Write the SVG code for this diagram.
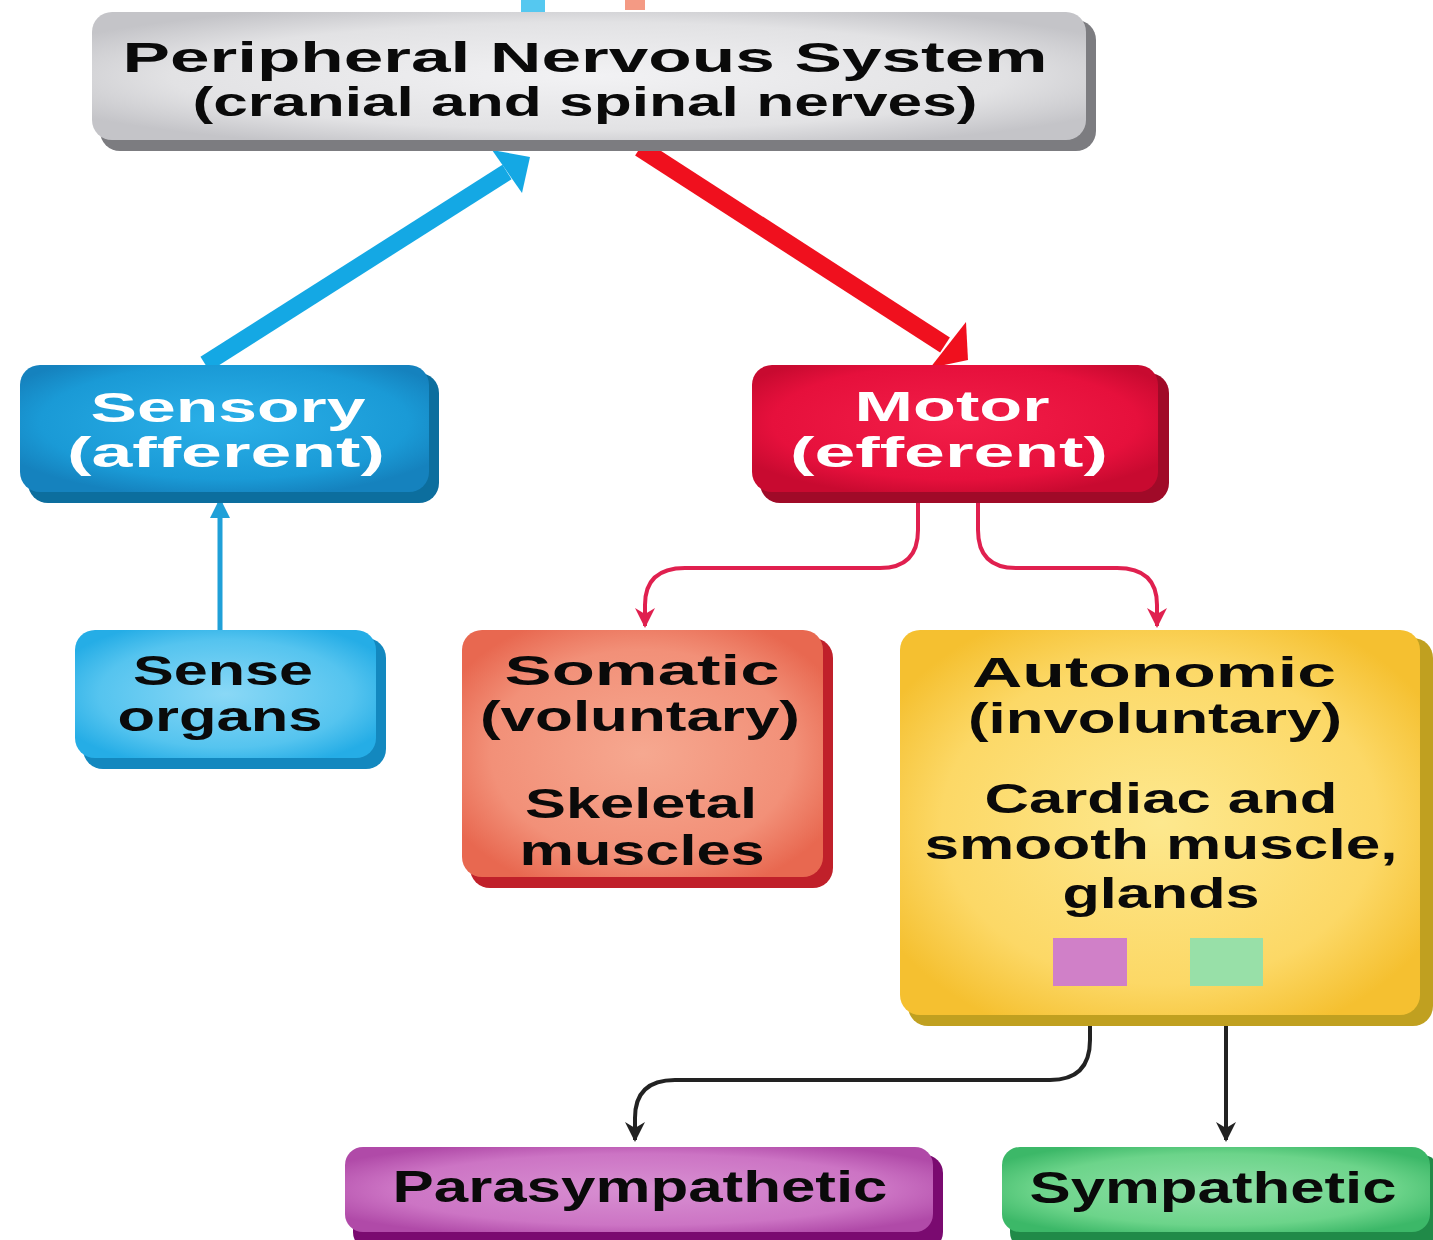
<svg xmlns="http://www.w3.org/2000/svg" width="1433" height="1240" viewBox="0 0 1433 1240">
<defs>
<radialGradient id="gGray" cx="50%" cy="50%" r="60%"><stop offset="0" stop-color="#f2f2f4"/><stop offset="0.7" stop-color="#e2e2e4"/><stop offset="1" stop-color="#c4c4c8"/></radialGradient>
<radialGradient id="gBlue" cx="50%" cy="45%" r="60%"><stop offset="0" stop-color="#2bb0e8"/><stop offset="0.75" stop-color="#1a9ad6"/><stop offset="1" stop-color="#1582be"/></radialGradient>
<radialGradient id="gCyan" cx="50%" cy="50%" r="60%"><stop offset="0" stop-color="#8ad8f6"/><stop offset="0.7" stop-color="#55c4ef"/><stop offset="1" stop-color="#25ade6"/></radialGradient>
<radialGradient id="gRed" cx="50%" cy="45%" r="60%"><stop offset="0" stop-color="#f21e48"/><stop offset="0.75" stop-color="#e6103c"/><stop offset="1" stop-color="#c80a30"/></radialGradient>
<radialGradient id="gSalmon" cx="50%" cy="50%" r="60%"><stop offset="0" stop-color="#f6a890"/><stop offset="0.7" stop-color="#f29078"/><stop offset="1" stop-color="#e86850"/></radialGradient>
<radialGradient id="gYellow" cx="50%" cy="50%" r="60%"><stop offset="0" stop-color="#fde88e"/><stop offset="0.7" stop-color="#fcd866"/><stop offset="1" stop-color="#f5c030"/></radialGradient>
<radialGradient id="gPurple" cx="50%" cy="50%" r="60%"><stop offset="0" stop-color="#d890d2"/><stop offset="0.7" stop-color="#cc74c4"/><stop offset="1" stop-color="#b04aa8"/></radialGradient>
<radialGradient id="gGreen" cx="50%" cy="50%" r="60%"><stop offset="0" stop-color="#90e0a8"/><stop offset="0.7" stop-color="#6cd48a"/><stop offset="1" stop-color="#3cb868"/></radialGradient>
<marker id="mPink" viewBox="0 0 10 10" refX="9" refY="5" markerWidth="5" markerHeight="5" orient="auto"><path d="M0,0 L10,5 L0,10 L3,5 z" fill="#e0204f"/></marker>
<marker id="mBlack" viewBox="0 0 10 10" refX="9" refY="5" markerWidth="5" markerHeight="5" orient="auto"><path d="M0,0 L10,5 L0,10 L3,5 z" fill="#222"/></marker>
<marker id="mBlueS" viewBox="0 0 10 10" refX="9" refY="5" markerWidth="4" markerHeight="4" orient="auto"><path d="M0,0 L10,5 L0,10 z" fill="#1fa0d8"/></marker>
</defs>
<style>
text{font-family:"Liberation Sans",Arial,sans-serif;font-weight:bold;text-anchor:middle}
.w{fill:#ffffff}
.k{fill:#0a0a0a}
</style>
<rect width="1433" height="1240" fill="#ffffff"/>

<g id="connectors">
<rect x="521" y="0" width="24" height="12" fill="#55c8f0"/>
<rect x="625" y="0" width="20" height="10" fill="#f49a84"/>
<line x1="205" y1="364" x2="507" y2="172" stroke="#14a8e4" stroke-width="17"/>
<polygon points="530,157 522,193 492,150" fill="#14a8e4"/>
<line x1="640" y1="148" x2="945" y2="345" stroke="#f0101e" stroke-width="18"/>
<polygon points="968,360 966,322 930,368" fill="#f0101e"/>
<line x1="220" y1="630" x2="220" y2="500" stroke="#1fa0d8" stroke-width="5" marker-end="url(#mBlueS)"/>
<path d="M918,500 V530 Q918,568 880,568 H685 Q645,568 645,605 V626" fill="none" stroke="#e0204f" stroke-width="4" marker-end="url(#mPink)"/>
<path d="M978,500 V530 Q978,568 1016,568 H1117 Q1157,568 1157,605 V626" fill="none" stroke="#e0204f" stroke-width="4" marker-end="url(#mPink)"/>
<path d="M1090,986 V1040 Q1090,1080 1050,1080 H675 Q635,1080 635,1118 V1140" fill="none" stroke="#222" stroke-width="4" marker-end="url(#mBlack)"/>
<line x1="1226" y1="986" x2="1226" y2="1140" stroke="#222" stroke-width="4" marker-end="url(#mBlack)"/>
</g>

<g id="pns">
<rect x="100" y="20" width="996" height="131" rx="20" fill="#7c7c80"/>
<rect x="92" y="12" width="994" height="128" rx="20" fill="url(#gGray)"/>
<text x="585" y="72" font-size="43" class="k" textLength="925" lengthAdjust="spacingAndGlyphs">Peripheral Nervous System</text>
<text x="585" y="116" font-size="41" class="k" textLength="785" lengthAdjust="spacingAndGlyphs">(cranial and spinal nerves)</text>
</g>

<g id="sensory">
<rect x="28" y="373" width="411" height="130" rx="20" fill="#0c6e9e"/>
<rect x="20" y="365" width="409" height="127" rx="20" fill="url(#gBlue)"/>
<text x="228" y="422" font-size="42" class="w" textLength="275" lengthAdjust="spacingAndGlyphs">Sensory</text>
<text x="226" y="467" font-size="42" class="w" textLength="318" lengthAdjust="spacingAndGlyphs">(afferent)</text>
</g>

<g id="sense-organs">
<rect x="83" y="638" width="303" height="131" rx="20" fill="#1388bf"/>
<rect x="75" y="630" width="301" height="128" rx="20" fill="url(#gCyan)"/>
<text x="223" y="685" font-size="43" class="k" textLength="180" lengthAdjust="spacingAndGlyphs">Sense</text>
<text x="220" y="731" font-size="43" class="k" textLength="205" lengthAdjust="spacingAndGlyphs">organs</text>
</g>

<g id="motor">
<rect x="760" y="373" width="409" height="130" rx="20" fill="#a00a28"/>
<rect x="752" y="365" width="406" height="127" rx="20" fill="url(#gRed)"/>
<text x="952" y="421" font-size="42" class="w" textLength="195" lengthAdjust="spacingAndGlyphs">Motor</text>
<text x="949" y="467" font-size="42" class="w" textLength="318" lengthAdjust="spacingAndGlyphs">(efferent)</text>
</g>

<g id="somatic">
<rect x="470" y="638" width="363" height="250" rx="20" fill="#c0202a"/>
<rect x="462" y="630" width="361" height="247" rx="20" fill="url(#gSalmon)"/>
<text x="642" y="685" font-size="43" class="k" textLength="275" lengthAdjust="spacingAndGlyphs">Somatic</text>
<text x="640" y="731" font-size="43" class="k" textLength="320" lengthAdjust="spacingAndGlyphs">(voluntary)</text>
<text x="641" y="818" font-size="43" class="k" textLength="232" lengthAdjust="spacingAndGlyphs">Skeletal</text>
<text x="642" y="865" font-size="43" class="k" textLength="245" lengthAdjust="spacingAndGlyphs">muscles</text>
</g>

<g id="autonomic">
<rect x="908" y="638" width="525" height="388" rx="20" fill="#c0a020"/>
<rect x="900" y="630" width="520" height="385" rx="20" fill="url(#gYellow)"/>
<text x="1154" y="687" font-size="43" class="k" textLength="364" lengthAdjust="spacingAndGlyphs">Autonomic</text>
<text x="1155" y="733" font-size="43" class="k" textLength="374" lengthAdjust="spacingAndGlyphs">(involuntary)</text>
<text x="1161" y="813" font-size="43" class="k" textLength="353" lengthAdjust="spacingAndGlyphs">Cardiac and</text>
<text x="1161" y="859" font-size="43" class="k" textLength="473" lengthAdjust="spacingAndGlyphs">smooth muscle,</text>
<text x="1161" y="908" font-size="43" class="k" textLength="197" lengthAdjust="spacingAndGlyphs">glands</text>
<rect x="1053" y="938" width="74" height="48" fill="#d080c8"/>
<rect x="1190" y="938" width="73" height="48" fill="#98e0a8"/>
</g>

<g id="parasympathetic">
<rect x="353" y="1155" width="590" height="95" rx="18" fill="#7a0a70"/>
<rect x="345" y="1147" width="588" height="85" rx="18" fill="url(#gPurple)"/>
<text x="640" y="1202" font-size="44" class="k" textLength="495" lengthAdjust="spacingAndGlyphs">Parasympathetic</text>
</g>

<g id="sympathetic">
<rect x="1010" y="1155" width="430" height="95" rx="18" fill="#208a48"/>
<rect x="1002" y="1147" width="428" height="85" rx="18" fill="url(#gGreen)"/>
<text x="1213" y="1203" font-size="44" class="k" textLength="367" lengthAdjust="spacingAndGlyphs">Sympathetic</text>
</g>
</svg>
